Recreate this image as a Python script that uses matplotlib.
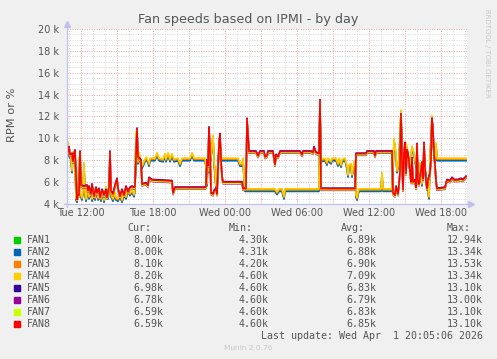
import matplotlib
matplotlib.use("Agg")
import matplotlib.pyplot as plt
from matplotlib.patches import Rectangle
from matplotlib.lines import Line2D
import numpy as np

# time in minutes since Tue 00:00, values in k RPM
# group A: FAN1-FAN4 (track together)
mins_a = [650, 655, 660, 670, 675, 680, 690, 695, 700, 705, 710, 715, 725, 730, 735, 740, 745,
          755, 760, 770, 775, 785, 790, 800, 805, 815, 820, 830, 835, 845, 855, 865, 870, 880,
          890, 895, 905, 915, 925, 935, 945, 955, 965, 975, 985, 990, 995, 1000, 1005, 1010,
          1015, 1020, 1025, 1035, 1045, 1055, 1060, 1065, 1090, 1100, 1110, 1130, 1140, 1145,
          1155, 1165, 1175, 1185, 1205, 1215, 1225, 1265, 1275, 1285, 1340, 1345, 1350, 1355,
          1360, 1370, 1380, 1385, 1395, 1405, 1415, 1420, 1505, 1515, 1525, 1530, 1535, 1540,
          1690, 1700, 1710, 1725, 1735, 1740, 1910, 1915, 1920, 1940, 1950, 1955, 1970, 1975,
          1995, 2005, 2010, 2020, 2025, 2040, 2050, 2055, 2060, 2070, 2075, 2085, 2090, 2095,
          2100, 2105, 2110, 2220, 2225, 2230, 2275, 2280, 2285, 2295, 2300, 2310, 2320, 2325,
          2335, 2345, 2355, 2365, 2375, 2385, 2395, 2400, 2410, 2415, 2425, 2435, 2445, 2455,
          2460, 2465, 2475, 2480, 2490, 2495, 2500, 2645]
vals_a = [8.8, 9.6, 8.5, 8.2, 7.0, 8.7, 8.5, 4.5, 4.3, 5.0, 8.2, 5.0, 4.5, 5.2, 7.7, 5.0, 4.4,
          5.5, 4.6, 5.2, 4.4, 5.0, 4.5, 5.3, 4.5, 4.9, 4.4, 5.2, 4.3, 5.5, 4.6, 5.8, 4.8, 4.4,
          5.0, 4.5, 4.4, 4.8, 4.3, 4.9, 4.6, 5.3, 4.9, 5.2, 4.8, 5.4, 10.5, 8.8, 7.8, 8.6,
          8.2, 7.6, 7.4, 7.8, 8.2, 7.9, 7.6, 8.1, 8.1, 8.6, 8.1, 8.0, 8.5, 8.0,
          8.6, 8.0, 8.5, 8.0, 8.1, 7.6, 8.1, 8.1, 8.6, 8.1, 8.1, 7.5, 5.8, 8.3,
          7.0, 8.4, 10.2, 8.0, 5.6, 7.7, 9.8, 8.1, 8.1, 7.6, 7.6, 8.1, 6.5, 5.3,
          5.3, 5.0, 5.3, 5.3, 4.6, 5.3, 5.3, 13.3, 8.0, 8.1, 7.7, 8.1, 7.8, 8.1,
          8.1, 7.6, 8.1, 7.5, 8.0, 8.1, 7.4, 6.6, 7.5, 7.6, 6.6, 7.7, 7.9, 4.8,
          4.5, 5.0, 5.3, 5.3, 6.8, 5.3, 5.3, 7.2, 9.9, 8.5, 7.0, 8.0, 12.5, 9.0,
          8.4, 9.5, 8.6, 7.2, 9.2, 8.6, 7.5, 8.4, 6.0, 7.7, 5.8, 8.1, 6.4, 5.2,
          4.6, 8.0, 12.0, 9.8, 8.0, 9.5, 8.1, 8.1]

# group B: FAN5-FAN8
mins_b = [650, 660, 665, 675, 680, 685, 690, 700, 705, 710, 715, 720, 735, 750, 755, 760, 770,
          775, 785, 795, 800, 810, 815, 825, 835, 845, 850, 860, 865, 870, 880, 890, 900, 905,
          915, 925, 935, 945, 955, 965, 975, 985, 990, 1000, 1005, 1020, 1025, 1045, 1055,
          1060, 1075, 1175, 1180, 1190, 1340, 1345, 1350, 1355, 1360, 1365, 1370, 1380, 1385,
          1395, 1400, 1410, 1415, 1420, 1425, 1430, 1525, 1530, 1545, 1550, 1560, 1595, 1605,
          1615, 1635, 1640, 1650, 1655, 1680, 1690, 1695, 1705, 1715, 1815, 1825, 1830, 1870,
          1880, 1885, 1895, 1910, 1915, 1920, 2090, 2095, 2145, 2150, 2185, 2190, 2195, 2275,
          2280, 2290, 2295, 2305, 2310, 2315, 2320, 2325, 2330, 2335, 2340, 2345, 2350, 2355,
          2365, 2370, 2375, 2380, 2390, 2395, 2400, 2405, 2410, 2415, 2425, 2430, 2435, 2440,
          2445, 2450, 2455, 2465, 2470, 2475, 2480, 2485, 2490, 2495, 2500, 2540, 2550, 2565,
          2575, 2585, 2605, 2620, 2630, 2645]
vals_b = [8.4, 9.2, 8.5, 8.6, 7.9, 8.5, 8.9, 4.4, 4.8, 4.8, 8.8, 5.7, 5.6, 5.7, 5.2, 5.6, 4.9,
          5.8, 4.7, 5.5, 5.0, 5.4, 4.6, 5.3, 4.8, 5.3, 4.6, 5.5, 8.8, 5.2, 4.9, 5.7, 6.3, 5.4,
          4.7, 5.3, 4.8, 5.6, 5.1, 5.5, 5.6, 5.5, 5.6, 10.9, 8.3, 8.0, 5.8, 5.9, 5.7,
          6.4, 6.2, 6.1, 5.0, 5.5, 5.5, 5.6, 8.0, 7.5, 11.0, 9.0, 5.0, 4.9, 5.2,
          5.4, 4.9, 9.5, 10.4, 8.0, 6.5, 6.0, 6.0, 5.4, 5.4, 11.8, 8.8, 8.8, 8.4,
          8.8, 8.8, 8.3, 8.4, 8.8, 8.8, 7.6, 8.5, 8.3, 8.8, 8.8, 8.5, 8.8, 8.8,
          8.7, 9.2, 8.7, 8.6, 13.5, 5.4, 5.4, 8.6, 8.6, 8.8, 8.8, 8.4, 8.8, 8.8,
          5.0, 4.8, 5.6, 4.9, 5.8, 7.0, 12.2, 8.0, 5.3, 8.7, 9.6, 6.8, 8.9, 8.6,
          7.0, 6.0, 8.2, 6.0, 6.2, 5.5, 9.5, 6.0, 5.8, 6.4, 7.8, 6.3, 9.6, 7.4,
          6.1, 5.4, 6.2, 6.8, 8.1, 11.8, 10.8, 8.5, 7.6, 6.1, 5.4, 5.5, 6.2, 6.1,
          6.4, 6.2, 6.2, 6.3, 6.2, 6.5]

fan_names = ["FAN1", "FAN2", "FAN3", "FAN4", "FAN5", "FAN6", "FAN7", "FAN8"]
fan_colors = ["#00CC00", "#0066B3", "#FF8000", "#FFCC00", "#330099", "#990099", "#CCFF00", "#FF0000"]
fan_group = ["a", "a", "a", "a", "b", "b", "b", "b"]
fan_shift = [-0.1, -0.15, 0.0, 0.1, 0.05, -0.15, -0.1, 0.0]

cur = ["8.00k", "8.00k", "8.10k", "8.20k", "6.98k", "6.78k", "6.59k", "6.59k"]
vmin = ["4.30k", "4.31k", "4.20k", "4.60k", "4.60k", "4.60k", "4.60k", "4.60k"]
vavg = ["6.89k", "6.88k", "6.90k", "7.09k", "6.83k", "6.79k", "6.83k", "6.85k"]
vmax = ["12.94k", "13.34k", "13.53k", "13.34k", "13.10k", "13.00k", "13.10k", "13.10k"]

tick_hours = [12, 18, 24, 30, 36, 42]
tick_labels = ["Tue 12:00", "Tue 18:00", "Wed 00:00", "Wed 06:00", "Wed 12:00", "Wed 18:00"]

W, H = 497, 359
def fx(x):
    return x / W
def fy(y):
    return 1 - y / H

txt = "#555555"
fig = plt.figure(figsize=(W / 100, H / 100), dpi=100, facecolor="#F0F0F0")
ax = fig.add_axes([fx(67), fy(204), 400 / W, 175 / H])
ax.set_facecolor("white")

# grid
for h in np.arange(11, 45, 1):
    major = (h % 3 == 0)
    ax.axvline(h, color="#F0A0A0" if major else "#D8D8D8", lw=0.7,
               ls=(0, (1, 1.5)), zorder=1)
for v in np.arange(4.5, 20.01, 0.5):
    major = abs(v % 2) < 1e-9
    ax.axhline(v, color="#F0A0A0" if major else "#D8D8D8", lw=0.7,
               ls=(0, (1, 1.5)), zorder=1)

ta = np.array(mins_a) / 60.0
tb = np.array(mins_b) / 60.0
for name, col, grp, sh in zip(fan_names, fan_colors, fan_group, fan_shift):
    if grp == "a":
        ax.plot(ta, np.array(vals_a) + sh, color=col, lw=1.15, zorder=3)
    else:
        ax.plot(tb, np.array(vals_b) + sh, color=col, lw=1.15, zorder=3)

ax.set_xlim(650 / 60, 2650 / 60)
ax.set_ylim(4, 20)
ax.set_yticks(range(4, 21, 2))
ax.set_yticklabels([f"{v} k" for v in range(4, 21, 2)])
ax.set_xticks(tick_hours)
ax.set_xticklabels(tick_labels)
ax.tick_params(length=0, labelsize=7, colors=txt)
ax.tick_params(axis="y", pad=6)
ax.tick_params(axis="x", pad=3)
for s in ax.spines.values():
    s.set_visible(False)

# axis lines with arrows
axc = "#C0C0EE"
fig.add_artist(Line2D([fx(64), fx(470)], [fy(204), fy(204)], color=axc, lw=0.9))
fig.add_artist(Line2D([fx(67), fx(67)], [fy(207), fy(25)], color=axc, lw=0.9))
fig.add_artist(Line2D([fx(471)], [fy(204)], marker=">", ms=4, color=axc, mec=axc))
fig.add_artist(Line2D([fx(67)], [fy(24)], marker="^", ms=4, color=axc, mec=axc))

fig.text(fx(248), fy(19), "Fan speeds based on IPMI - by day", ha="center", va="center",
         fontsize=9.2, color=txt)
fig.text(fx(12), fy(115), "RPM or %", rotation=90, ha="center", va="center",
         fontsize=8.2, color=txt)
fig.text(fx(487), fy(53), "RRDTOOL / TOBI OETIKER", rotation=270, ha="center", va="center",
         fontsize=5, color="#C8C8C8")

mono = "DejaVu Sans Mono"
fs = 7.2
hy = 227.7
fig.text(fx(127), fy(hy), "Cur:", family=mono, fontsize=fs, color=txt, va="center")
fig.text(fx(229), fy(hy), "Min:", family=mono, fontsize=fs, color=txt, va="center")
fig.text(fx(341), fy(hy), "Avg:", family=mono, fontsize=fs, color=txt, va="center")
fig.text(fx(447), fy(hy), "Max:", family=mono, fontsize=fs, color=txt, va="center")
for i, name in enumerate(fan_names):
    y = 239.7 + 12 * i
    fig.add_artist(Rectangle((fx(14), fy(y + 3)), 6 / W, 6 / H, color=fan_colors[i],
                             transform=fig.transFigure))
    fig.text(fx(26.5), fy(y), name, family=mono, fontsize=fs, color=txt, va="center")
    fig.text(fx(163), fy(y), cur[i], family=mono, fontsize=fs, color=txt, va="center", ha="right")
    fig.text(fx(269), fy(y), vmin[i], family=mono, fontsize=fs, color=txt, va="center", ha="right")
    fig.text(fx(376), fy(y), vavg[i], family=mono, fontsize=fs, color=txt, va="center", ha="right")
    fig.text(fx(483), fy(y), vmax[i], family=mono, fontsize=fs, color=txt, va="center", ha="right")

fig.text(fx(483), fy(335.7), "Last update: Wed Apr  1 20:05:06 2026", family=mono,
         fontsize=fs, color=txt, va="center", ha="right")
fig.text(fx(248), fy(347.7), "Munin 2.0.76", fontsize=5.3, color="#C8C8C8",
         ha="center", va="center")

fig.savefig("out.png", dpi=100, facecolor=fig.get_facecolor())
